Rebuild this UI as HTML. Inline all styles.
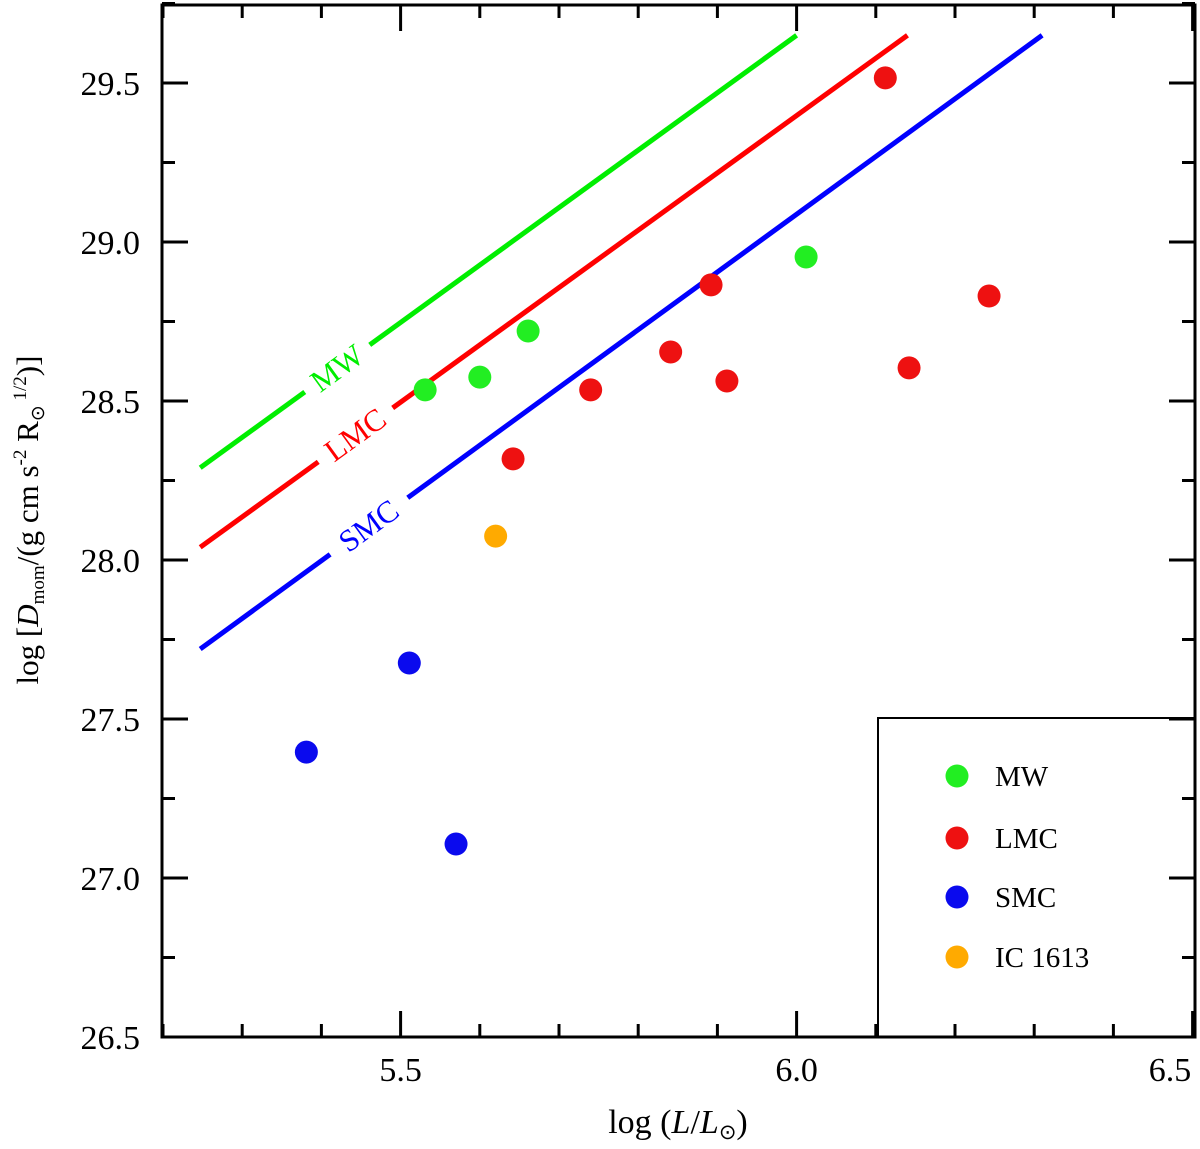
<!DOCTYPE html>
<html><head><meta charset="utf-8"><style>
body{margin:0;background:#fff}
svg text{font-family:"Liberation Serif",serif}
</style></head><body>
<svg id="chart" width="1200" height="1144" xmlns="http://www.w3.org/2000/svg"></svg>
<script>
const mwX=[5.531,5.600,5.661,6.012];
const mwY=[28.535,28.575,28.720,28.953];
const lmcX=[6.112,5.892,5.841,5.740,5.912,5.642,6.142,6.243];
const lmcY=[29.516,28.865,28.654,28.535,28.563,28.318,28.604,28.830];
const smcX=[5.381,5.511,5.570];
const smcY=[27.396,27.676,27.107];
const icX=[5.620];
const icY=[28.075];
const xTicks=[5.5,6.0,6.5];
const xTickLabels=["5.5","6.0","6.5"];
const yTicks=[26.5,27.0,27.5,28.0,28.5,29.0,29.5];
const yTickLabels=["26.5","27.0","27.5","28.0","28.5","29.0","29.5"];
// relation lines: [x0,y0,x1,y1,gapStart,gapEnd]
const mwLine=[5.247,28.29,6.0,29.65,5.379,5.461];
const lmcLine=[5.247,28.04,6.14,29.65,5.396,5.490];
const smcLine=[5.247,27.72,6.31,29.65,5.411,5.509];

const NS="http://www.w3.org/2000/svg";
const svg=document.getElementById('chart');
const L=162,R=1195,T=5,B=1037;
const X=v=>163+(v-5.2)*792;
const Y=v=>83+(29.5-v)*318;
function el(tag,attrs,parent){const e=document.createElementNS(NS,tag);for(const k in attrs)e.setAttribute(k,attrs[k]);(parent||svg).appendChild(e);return e;}

for(let i=0;i<=13;i++){const v=5.2+i*0.1;const px=X(v);const major=i%5===3;const len=major?26:13;
 const t=el('line',{x1:px,y1:B,x2:px,y2:B-len,stroke:'#000','stroke-width':3});
 
 
 const t2=el('line',{x1:px,y1:T,x2:px,y2:T+len,stroke:'#000','stroke-width':3});
 
 }
for(let i=0;i<=13;i++){const v=26.5+i*0.25;const py=Y(v);const major=i%2===0;const len=major?26:13;
 const t=el('line',{x1:L,y1:py,x2:L+len,y2:py,stroke:'#000','stroke-width':3});
 
 
 const t2=el('line',{x1:R,y1:py,x2:R-len,y2:py,stroke:'#000','stroke-width':3});
 
 }
xTicks.forEach((v,i)=>{const t=el('text',{x:Math.min(X(v),1170),y:1081,'font-size':34,'text-anchor':'middle'});t.textContent=xTickLabels[i];
 
 });
yTicks.forEach((v,i)=>{const t=el('text',{x:140,y:Y(v)+12,'font-size':34,'text-anchor':'end'});t.textContent=yTickLabels[i];
 
 });

function rel(line,color,label,name){const [x0,y0,x1,y1,g0,g1]=line;const s=(y1-y0)/(x1-x0);const f=x=>y0+s*(x-x0);
 const a=el('line',{x1:X(x0),y1:Y(y0),x2:X(g0),y2:Y(f(g0)),stroke:color,'stroke-width':5});
 
 
 const b=el('line',{x1:X(g1),y1:Y(f(g1)),x2:X(x1),y2:Y(y1),stroke:color,'stroke-width':5});
 
 
 const gm=(g0+g1)/2;const cx=X(gm),cy=Y(f(gm));const ang=Math.atan2(Y(f(g1))-Y(f(g0)),X(g1)-X(g0))*180/Math.PI;
 const t=el('text',{x:cx,y:cy+10,'font-size':31,'text-anchor':'middle',fill:color,transform:`rotate(${ang} ${cx} ${cy})`});t.textContent=label;
 
 }
rel(mwLine,'#00ee00','MW','mw');
rel(lmcLine,'#ff0000','LMC','lmc');
rel(smcLine,'#0000ff','SMC','smc');

function pts(xs,ys,color,name){xs.forEach((x,i)=>{const c=el('circle',{cx:X(x),cy:Y(ys[i]),r:11.5,fill:color});
 
 });}
pts(mwX,mwY,'#22ee22','mw');
pts(lmcX,lmcY,'#ee1111','lmc');
pts(smcX,smcY,'#0a0aee','smc');
pts(icX,icY,'#ffaa00','ic1613');

const lg=el('g',{});


el('polyline',{points:`878,${B} 878,718 ${R},718`,fill:'none',stroke:'#000','stroke-width':2},lg);
[['MW','#22ee22',776],['LMC','#ee1111',838],['SMC','#0a0aee',897],['IC 1613','#ffaa00',957]].forEach(([n,c,y])=>{
 const g=el('g',{},lg);
 
 
 el('circle',{cx:957,cy:y,r:11.5,fill:c},g);
 const t=el('text',{x:995,y:y+10,'font-size':29},g);t.textContent=n;});

const fr=el('rect',{x:L,y:T,width:R-L,height:B-T,fill:'none',stroke:'#000','stroke-width':3});



const xt=el('text',{x:678,y:1133,'font-size':34,'text-anchor':'middle'});
xt.innerHTML='log (<tspan font-style="italic">L</tspan>/<tspan font-style="italic">L</tspan><tspan font-size="21" dy="6">⊙</tspan><tspan dy="-6">)</tspan>';


const yt=el('text',{x:0,y:0,'font-size':31,'text-anchor':'middle',transform:'translate(38,520) rotate(-90)'});
yt.innerHTML='log [<tspan font-style="italic">D</tspan><tspan font-size="19" dy="6">mom</tspan><tspan dy="-6">/(g cm s</tspan><tspan font-size="19" dy="-12">-2</tspan><tspan dy="12"> R</tspan><tspan font-size="19" dy="6">⊙</tspan><tspan font-size="19" dy="-18"> 1/2</tspan><tspan dy="12">)]</tspan>';


</script>
</body></html>
